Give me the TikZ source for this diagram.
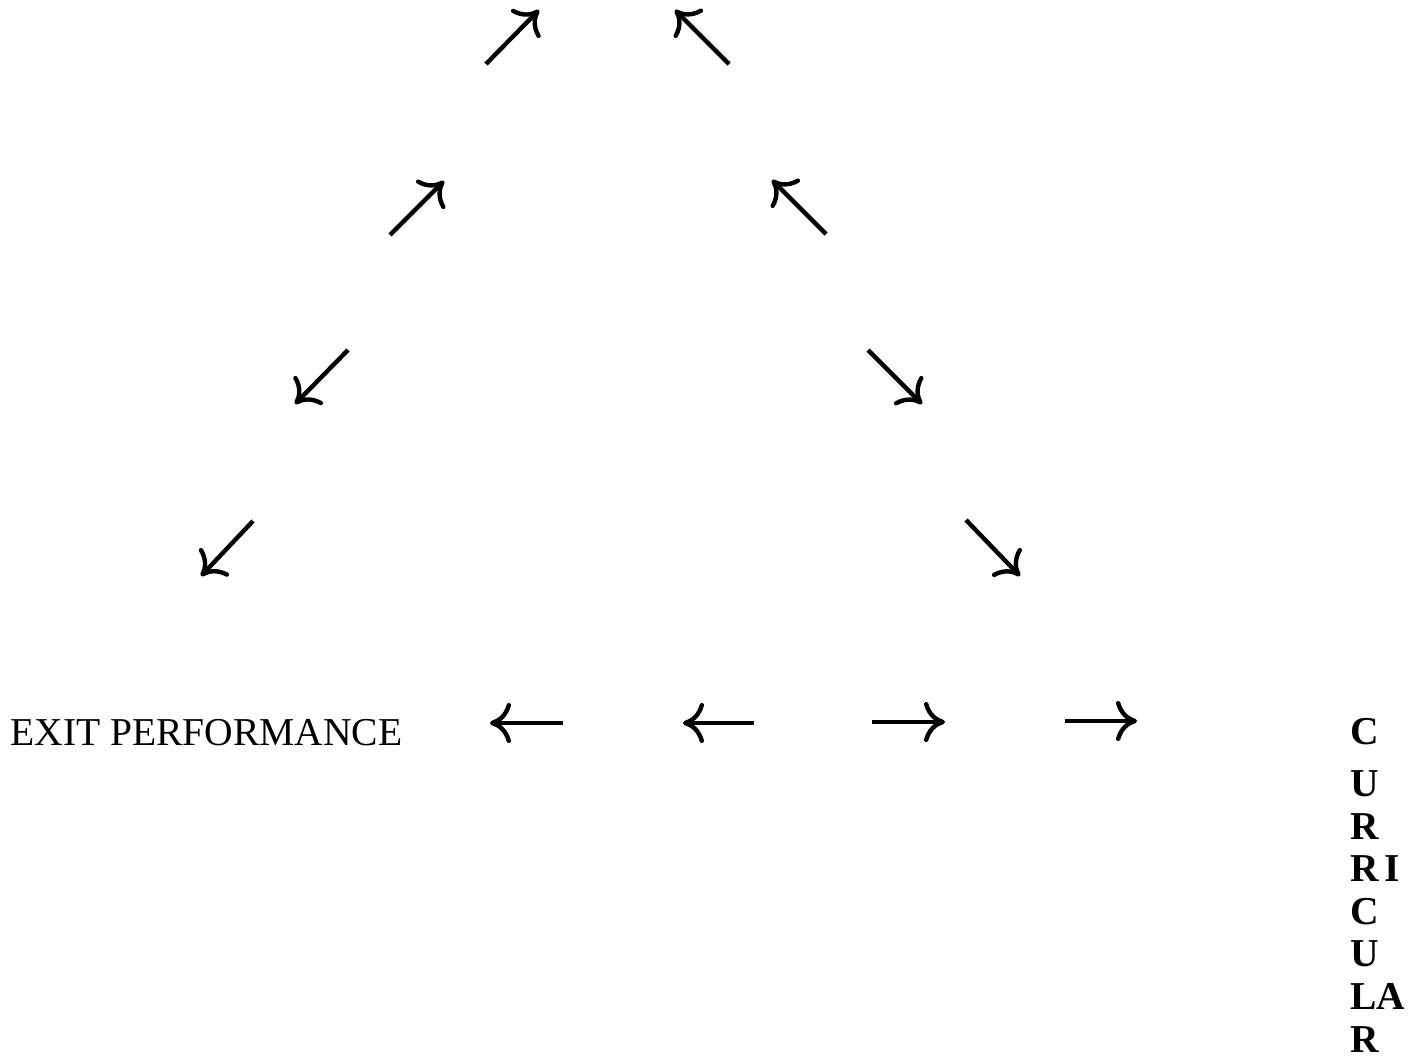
\documentclass[tikz,border=0pt]{standalone}
\usepackage{fontspec}
\setmainfont{Liberation Serif}
\usepackage{tikz}
\usetikzlibrary{arrows.meta, positioning}

\begin{document}
\begin{tikzpicture}[
    x=0.02cm, y=-0.02cm,
    heading/.style={inner sep=0pt, anchor=base west, font=\fontsize{22.5}{24.2}\selectfont},
    vertword/.style={inner sep=0pt, anchor=base west, align=left, font=\fontsize{22.5}{24.2}\selectfont\bfseries},
    arrow/.style={line width=2.5pt, -{Computer Modern Rightarrow[length=0.42cm, width=0.8cm]}}
]
    \useasboundingbox (0,0) rectangle (1417,1058);

    % labels
    \node[heading] (exit) at (10,745) {EXIT PERFORMANCE};
    \node[vertword] (curr) at (1350,1052) {C\\[0.2cm] U\\ R\\ R\hspace{0.15em}I\\ C\\ U\\ LA\\ R};

    % end points of the arrows
    \coordinate (ur1s) at (486,64);   \coordinate (ur1e) at (539,10);
    \coordinate (ul1s) at (729,64);   \coordinate (ul1e) at (675,10);
    \coordinate (ur2s) at (390,235);  \coordinate (ur2e) at (444,181);
    \coordinate (ul2s) at (826,234);  \coordinate (ul2e) at (772,180);
    \coordinate (dl1s) at (348,350);  \coordinate (dl1e) at (295,404);
    \coordinate (dr1s) at (868,350);  \coordinate (dr1e) at (922,404);
    \coordinate (dl2s) at (253,521);  \coordinate (dl2e) at (201,576);
    \coordinate (dr2s) at (966,520);  \coordinate (dr2e) at (1020,576);
    \coordinate (l1s) at (563,723);   \coordinate (l1e) at (490,723);
    \coordinate (l2s) at (754,723);   \coordinate (l2e) at (683,723);
    \coordinate (r1s) at (872,722);   \coordinate (r1e) at (945,722);
    \coordinate (r2s) at (1065,721);  \coordinate (r2e) at (1137,721);

    \draw[arrow] (ur1s) -- (ur1e);
    \draw[arrow] (ul1s) -- (ul1e);
    \draw[arrow] (ur2s) -- (ur2e);
    \draw[arrow] (ul2s) -- (ul2e);
    \draw[arrow] (dl1s) -- (dl1e);
    \draw[arrow] (dr1s) -- (dr1e);
    \draw[arrow] (dl2s) -- (dl2e);
    \draw[arrow] (dr2s) -- (dr2e);
    \draw[arrow] (l1s) -- (l1e);
    \draw[arrow] (l2s) -- (l2e);
    \draw[arrow] (r1s) -- (r1e);
    \draw[arrow] (r2s) -- (r2e);

\end{tikzpicture}
\end{document}
